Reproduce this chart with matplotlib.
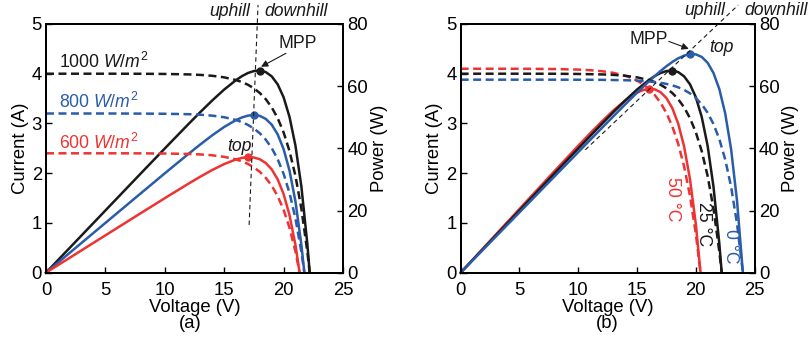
import matplotlib
matplotlib.use('Agg')
import matplotlib.pyplot as plt
import numpy as np

plt.rcParams['font.family'] = ['Liberation Sans', 'DejaVu Sans']
plt.rcParams['mathtext.fontset'] = 'custom'
plt.rcParams['mathtext.rm'] = 'Liberation Sans'
plt.rcParams['mathtext.it'] = 'Liberation Sans:italic'

BLACK = '#1a1a1a'
BLUE = '#2a5caa'
RED = '#ee3333'

# ---- I-V data (voltage V, current A) ----
# 1000 W/m2, 25 C (used in both panels)
v_stc = [0, 2, 4, 6, 8, 10, 12, 13, 14, 15, 16, 16.5, 17, 17.5, 18, 18.5, 19, 19.5, 20, 20.5, 21, 21.5, 22, 22.2]
i_stc = [4.0, 4.0, 4.0, 4.0, 3.999, 3.995, 3.986, 3.976, 3.958, 3.927, 3.872, 3.832, 3.778, 3.706,
         3.612, 3.488, 3.324, 3.108, 2.822, 2.444, 1.946, 1.288, 0.421, 0.0]

# 800 W/m2
v_800 = [0, 2, 4, 6, 8, 10, 12, 13, 14, 15, 16, 16.5, 17, 17.5, 18, 18.5, 19, 19.5, 20, 20.5, 21, 21.5, 21.75]
i_800 = [3.2, 3.2, 3.2, 3.2, 3.198, 3.195, 3.186, 3.175, 3.157, 3.125, 3.069, 3.027, 2.971, 2.898,
         2.802, 2.674, 2.506, 2.283, 1.989, 1.602, 1.091, 0.415, 0.0]

# 600 W/m2
v_600 = [0, 2, 4, 6, 8, 10, 12, 13, 14, 15, 16, 16.5, 17, 17.5, 18, 18.5, 19, 19.5, 20, 20.5, 21, 21.35]
i_600 = [2.4, 2.4, 2.4, 2.4, 2.399, 2.396, 2.387, 2.377, 2.36, 2.329, 2.277, 2.238, 2.186, 2.117,
         2.027, 1.907, 1.75, 1.541, 1.266, 0.903, 0.424, 0.0]

# 0 C
v_0c = [0, 2, 4, 6, 8, 10, 12, 14, 15, 16, 17, 17.5, 18, 18.5, 19, 19.5, 20, 20.5, 21, 21.5, 22, 22.5, 23, 23.5, 24]
i_0c = [3.88, 3.88, 3.88, 3.88, 3.88, 3.879, 3.877, 3.869, 3.861, 3.845, 3.817, 3.795, 3.766, 3.727,
        3.675, 3.605, 3.511, 3.385, 3.216, 2.988, 2.683, 2.274, 1.725, 0.988, 0.0]

# 50 C
v_50c = [0, 2, 4, 6, 8, 10, 11, 12, 13, 14, 14.5, 15, 15.5, 16, 16.5, 17, 17.5, 18, 18.5, 19, 19.5, 20, 20.4]
i_50c = [4.1, 4.1, 4.1, 4.098, 4.094, 4.083, 4.071, 4.051, 4.017, 3.959, 3.916, 3.861, 3.789, 3.695,
         3.574, 3.415, 3.209, 2.94, 2.592, 2.138, 1.547, 0.779, 0.0]

panel_a = [(v_stc, i_stc, BLACK), (v_800, i_800, BLUE), (v_600, i_600, RED)]
panel_b = [(v_50c, i_50c, RED), (v_stc, i_stc, BLACK), (v_0c, i_0c, BLUE)]

labels_a = ['1000 $W/m^2$', '800 $W/m^2$', '600 $W/m^2$']
labels_a_y = [4.24, 3.44, 2.6]
labels_b = ['50 °C', '25 °C', '0 °C']
labels_b_xy = [(18.0, 1.48), (20.65, 0.98), (22.95, 0.54)]

# guide lines through the MPPs (voltage, current-axis units)
guide_a = ([17.1, 17.85], [0.96, 5.38])
guide_b = ([10.6, 23.6], [2.47, 5.38])

FS = 13.3   # axis text
FT = 12.7   # text inside the plots

fig = plt.figure(figsize=(8.11, 3.4), dpi=100)
ax_a = fig.add_axes([0.0567, 0.198, 0.3662, 0.7315])
ax_b = fig.add_axes([0.568, 0.198, 0.3625, 0.7315])

dash = (0, (3.2, 1.8))


def setup(ax):
    ax.set_xlim(0, 25)
    ax.set_ylim(0, 5)
    ax.set_xticks([0, 5, 10, 15, 20, 25])
    ax.set_yticks([0, 1, 2, 3, 4, 5])
    ax.tick_params(direction='in', length=4, width=1, labelsize=FS, pad=3,
                   top=False, right=False)
    ax.tick_params(axis='x', pad=6.5)
    for s in ax.spines.values():
        s.set_linewidth(1.4)
    ax.set_xlabel('Voltage (V)', fontsize=FS, labelpad=0)
    ax.set_ylabel('Current (A)', fontsize=FS, labelpad=2)
    axp = ax.twinx()
    axp.set_ylim(0, 80)
    axp.set_yticks([0, 20, 40, 60, 80])
    axp.tick_params(direction='in', length=4, width=1, labelsize=FS, pad=3)
    axp.set_ylabel('Power (W)', fontsize=FS, labelpad=2)
    for s in axp.spines.values():
        s.set_linewidth(1.4)
    # keep the current axis (dashed curves, notes) on top
    ax.set_zorder(axp.get_zorder() + 1)
    ax.patch.set_visible(False)
    return axp


def draw(ax, axp, curves):
    for v, i, c in curves:
        v = np.array(v)
        i = np.array(i)
        p = v * i
        ax.plot(v, i, color=c, lw=1.8, linestyle=dash, clip_on=False)
        axp.plot(v, p, color=c, lw=1.8, clip_on=False)
        k = np.argmax(p)
        axp.plot(v[k], p[k], 'o', color=c, ms=5, zorder=5)


def arrow(ax, start, end):
    ax.annotate('', xy=end, xytext=start,
                arrowprops=dict(arrowstyle='-|>', color=BLACK, lw=0.8, mutation_scale=10,
                                shrinkA=0, shrinkB=0))


axp_a = setup(ax_a)
axp_b = setup(ax_b)

draw(ax_a, axp_a, panel_a)
draw(ax_b, axp_b, panel_b)

# panel (a) annotations
ax_a.plot(guide_a[0], guide_a[1], color=BLACK, lw=0.8, linestyle=(0, (4, 3)), clip_on=False, zorder=6)
for lab, y, (_, _, c) in zip(labels_a, labels_a_y, panel_a):
    ax_a.text(1.1, y, lab, color=c, fontsize=FT, va='center', ha='left')
ax_a.text(16.3, 2.53, 'top', fontsize=FT, style='italic', ha='center', va='center', color=BLACK)
ax_a.text(17.2, 5.25, 'uphill', fontsize=FT, style='italic', ha='right', va='center', color=BLACK)
ax_a.text(18.4, 5.25, 'downhill', fontsize=FT, style='italic', ha='left', va='center', color=BLACK)
ax_a.text(21.2, 4.61, 'MPP', fontsize=FT, ha='center', va='center', color=BLACK)
arrow(ax_a, (20.2, 4.41), (18.1, 4.14))

# panel (b) annotations
ax_b.plot(guide_b[0], guide_b[1], color=BLACK, lw=0.8, linestyle=(0, (4, 3)), clip_on=False, zorder=6)
for lab, (x, y), (_, _, c) in zip(labels_b, labels_b_xy, panel_b):
    ax_b.text(x, y, lab, color=c, fontsize=FT, rotation=-90, ha='center', va='center')
ax_b.text(22.2, 4.52, 'top', fontsize=FT, style='italic', ha='center', va='center', color=BLACK)
ax_b.text(22.5, 5.27, 'uphill', fontsize=FT, style='italic', ha='right', va='center', color=BLACK)
ax_b.text(24.1, 5.27, 'downhill', fontsize=FT, style='italic', ha='left', va='center', color=BLACK)
ax_b.text(16.0, 4.68, 'MPP', fontsize=FT, ha='center', va='center', color=BLACK)
arrow(ax_b, (17.7, 4.65), (19.4, 4.5))

fig.text(0.2343, 0.05, '(a)', fontsize=FS, ha='center', va='center')
fig.text(0.7485, 0.05, '(b)', fontsize=FS, ha='center', va='center')

fig.savefig('out.png', dpi=100)
